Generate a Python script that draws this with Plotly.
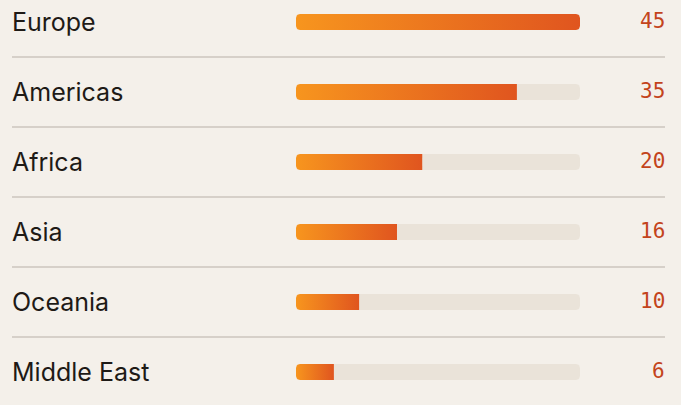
import numpy as np
import plotly.graph_objects as go

regions = ["Europe", "Americas", "Africa", "Asia", "Oceania", "Middle East"]
values = [45, 35, 20, 16, 10, 6]
value_labels = ["45", "35", "20", "16", "10", "6"]

W, H = 681, 405
BAR_X0, BAR_X1 = 296, 580          # pixel extent of bar track
ROW0, ROW_STEP = 22, 70            # pixel centre of first row, row pitch
BAR_H = 16
RADIUS = 4
XMAX = max(values)

px_per_x = (BAR_X1 - BAR_X0) / XMAX
px_per_y = ROW_STEP

BG = "#F4F0EA"
TRACK = "#EAE3D9"
SEP = "#D6D0C9"
LABEL = "#1E1A16"
VALUE = "#C3441C"
GRAD = [[0, "#F7951E"], [1, "#E0551F"]]


def rounded_poly(x0, x1, yc, round_left, round_right):
    """Polygon (data coords) of a bar from x0 to x1 centred on row yc."""
    rx = RADIUS / px_per_x
    ry = RADIUS / px_per_y
    hh = BAR_H / 2 / px_per_y
    top, bot = yc - hh, yc + hh  # y axis reversed: smaller = higher
    xs, ys = [], []
    t = np.linspace(0, np.pi / 2, 8)
    if round_left:
        for a in t:
            xs.append(x0 + rx - rx * np.sin(a)); ys.append(bot - ry + ry * np.cos(a))
        for a in t:
            xs.append(x0 + rx - rx * np.cos(a)); ys.append(top + ry - ry * np.sin(a))
    else:
        xs += [x0, x0]; ys += [bot, top]
    if round_right:
        for a in t:
            xs.append(x1 - rx + rx * np.sin(a)); ys.append(top + ry - ry * np.cos(a))
        for a in t:
            xs.append(x1 - rx + rx * np.cos(a)); ys.append(bot - ry + ry * np.sin(a))
    else:
        xs += [x1, x1]; ys += [top, bot]
    xs.append(xs[0]); ys.append(ys[0])
    return xs, ys


fig = go.Figure()

for i, (name, v) in enumerate(zip(regions, values)):
    tx, ty = rounded_poly(0, XMAX, i, True, True)
    fig.add_trace(go.Scatter(x=tx, y=ty, fill="toself", fillcolor=TRACK,
                             mode="lines", line=dict(width=0), hoverinfo="skip",
                             showlegend=False))
    fx, fy = rounded_poly(0, v, i, True, v >= XMAX)
    fig.add_trace(go.Scatter(x=fx, y=fy, fill="toself",
                             fillgradient=dict(type="horizontal", colorscale=GRAD),
                             mode="lines", line=dict(width=0), hoverinfo="skip",
                             showlegend=False, name=name))

annotations = []
for i, (name, lab) in enumerate(zip(regions, value_labels)):
    annotations.append(dict(x=11 / W, xref="paper", y=i - 0.5 / px_per_y, yref="y",
                            text=name, showarrow=False, xanchor="left", yanchor="middle",
                            borderpad=0,
                            font=dict(family="Inter", size=25, color=LABEL)))
    annotations.append(dict(x=666 / W, xref="paper", y=i - 1.5 / px_per_y, yref="y",
                            text=lab, showarrow=False, xanchor="right", yanchor="middle",
                            borderpad=0,
                            font=dict(family="DejaVu Sans Mono", size=21, color=VALUE)))

shapes = []
for i in range(len(regions) - 1):
    shapes.append(dict(type="line", xref="paper", yref="y",
                       x0=12 / W, x1=665 / W, y0=i + 0.5, y1=i + 0.5,
                       line=dict(color=SEP, width=2)))

y_top = -ROW0 / px_per_y
y_bot = (H - ROW0) / px_per_y

fig.update_layout(
    width=W, height=H,
    margin=dict(l=0, r=0, t=0, b=0),
    paper_bgcolor=BG, plot_bgcolor=BG,
    xaxis=dict(domain=[BAR_X0 / W, BAR_X1 / W], range=[0, XMAX], visible=False,
               fixedrange=True),
    yaxis=dict(domain=[0, 1], range=[y_bot, y_top], visible=False, fixedrange=True),
    annotations=annotations,
    shapes=shapes,
    showlegend=False,
)

fig.write_html("out.html", config={"displayModeBar": False})
